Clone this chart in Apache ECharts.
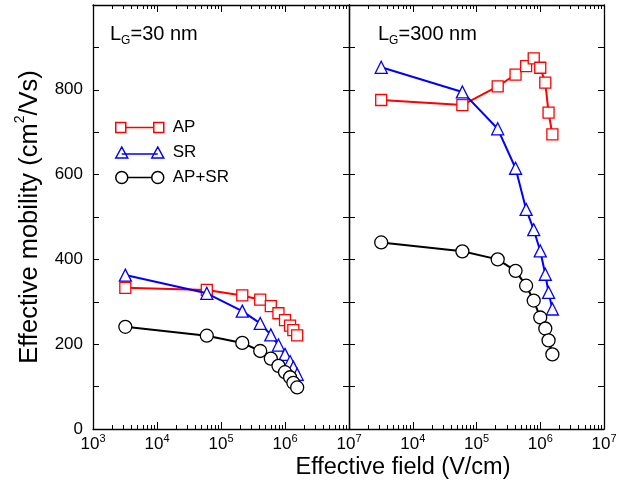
<!DOCTYPE html>
<html><head><meta charset="utf-8">
<script src="https://cdn.jsdelivr.net/npm/echarts@6/dist/echarts.min.js"></script>
<style>html,body{margin:0;padding:0;background:#fff}#c{width:629px;height:483px}</style>
</head><body><div id="c"></div>
<script>
// Effective field (V/cm), shared by both panels
const field = [3200, 60000, 215000, 410000, 600000, 790000, 1000000, 1200000, 1350000, 1550000];
// L_G = 30 nm
const apL   = [333, 328, 315, 305, 290, 273, 257, 244, 233, 221];
const srL   = [363, 320, 278, 249, 222, 198, 176, 159, 146, 129];
const bothL = [241, 220, 203, 184, 166, 149, 134, 122, 109, 98];
// L_G = 300 nm
const apR   = [776, 764, 808, 836, 856, 874, 852, 817, 746, 695];
const srR   = [853, 795, 708, 615, 518, 470, 420, 365, 322, 283];
const bothR = [440, 419, 400, 373, 338, 303, 263, 237, 209, 176];
const seriesNames = ['AP', 'SR', 'AP+SR'];
const panelLabels = ['30 nm', '300 nm'];
const yLabelValues = [0, 200, 400, 600, 800];

const FONT = '"Liberation Sans", Arial, Helvetica, sans-serif';
const minorLog = [];   // log10 positions of 2..9 x 10^n
const minorVals = [];  // same ticks as real values
for (let d = 3; d < 7; d++) for (let k = 2; k <= 9; k++) {
  minorVals.push(k * Math.pow(10, d));
  minorLog.push(Math.log10(k * Math.pow(10, d)));
}

const chart = echarts.init(document.getElementById('c'), null, {renderer: 'canvas'});

function majorX(grid, pos, labels, hideMin) {
  return {
    type: 'log', logBase: 10, gridIndex: grid, position: pos, min: 1e3, max: 1e7, splitNumber: 4,
    axisLine: {show: true, onZero: false, lineStyle: {color: '#000', width: 1.3}},
    axisTick: {show: true, inside: true, length: 7, lineStyle: {color: '#000', width: 1}},
    minorTick: {show: false}, splitLine: {show: false},
    axisLabel: {
      show: labels, showMinLabel: !hideMin, showMaxLabel: true, margin: 4,
      formatter: v => {
        const e = Math.round(Math.log10(v));
        if (hideMin && e === 3) return '';
        return '{b|10}{s|' + e + '}';
      },
      rich: {
        b: {fontFamily: FONT, fontSize: 17, color: '#000', lineHeight: 20, verticalAlign: 'bottom'},
        s: {fontFamily: FONT, fontSize: 11, color: '#000', lineHeight: 11, verticalAlign: 'top'}
      }
    }
  };
}
function minorX(grid, pos) {
  return {
    type: 'value', gridIndex: grid, position: pos, min: 3, max: 7,
    axisLine: {show: false, onZero: false}, splitLine: {show: false}, axisLabel: {show: false},
    axisTick: {show: true, inside: true, length: 4, customValues: minorLog, lineStyle: {color: '#000', width: 1}}
  };
}
function minorXLog(grid, pos) {
  return {
    type: 'log', logBase: 10, gridIndex: grid, position: pos, min: 1e3, max: 1e7,
    axisLine: {show: false, onZero: false}, splitLine: {show: false}, axisLabel: {show: false},
    minorTick: {show: false},
    axisTick: {show: true, inside: true, length: 4, customValues: minorVals, lineStyle: {color: '#000', width: 1}}
  };
}
function yAx(grid, pos, labels, name) {
  const o = {
    type: 'value', gridIndex: grid, position: pos, min: 0, max: 1000, interval: 100,
    axisLine: {show: true, onZero: false, lineStyle: {color: '#000', width: 1.3}},
    axisTick: {show: true, inside: true, length: 6, lineStyle: {color: '#000', width: 1}},
    splitLine: {show: false},
    axisLabel: {
      show: labels, margin: 10, fontFamily: FONT, fontSize: 17, color: '#000',
      formatter: v => (yLabelValues.indexOf(v) >= 0 ? String(v) : '')
    }
  };
  if (name) {
    o.name = '{m|Effective mobility (cm}{s|2}{m|/Vs)}';
    o.nameLocation = 'middle';
    o.nameGap = 50;
    o.nameRotate = 90;
    o.nameTextStyle = {
      rich: {
        m: {fontFamily: FONT, fontSize: 25.5, color: '#000', lineHeight: 30, verticalAlign: 'bottom'},
        s: {fontFamily: FONT, fontSize: 14, color: '#000', lineHeight: 14, verticalAlign: 'top'}
      }
    };
  }
  return o;
}
const colors = ['#ff0000', '#0000ff', '#000000'];
const symbols = ['rect', 'triangle', 'circle'];
const sizes = [11, 12, 13];
function mk(idx, xi, yi, ys) {
  return {
    type: 'line', name: seriesNames[idx], xAxisIndex: xi, yAxisIndex: yi,
    data: field.map((x, i) => [x, ys[i]]),
    symbol: symbols[idx], symbolSize: sizes[idx], showAllSymbol: true,
    lineStyle: {color: colors[idx], width: 2},
    itemStyle: {color: '#fff', borderColor: colors[idx], borderWidth: 1.3},
    color: colors[idx], animation: false, z: 3 + idx
  };
}
const iconRect = 'path://M0 1 L10 1 L10 11 L0 11 Z M10 6 L38 6 M38 1 L48 1 L48 11 L38 11 Z';
const iconTri = 'path://M0 11 L6 0 L12 11 Z M6 7 L42 7 M36 11 L42 0 L48 11 Z';
const iconCirc = 'path://M0 6 A6 6 0 1 0 12 6 A6 6 0 1 0 0 6 Z M12 6 L36 6 M36 6 A6 6 0 1 0 48 6 A6 6 0 1 0 36 6 Z';
const icons = [iconRect, iconTri, iconCirc];

const subRich = {
  m: {fontFamily: FONT, fontSize: 20, fill: '#000', lineHeight: 26, verticalAlign: 'middle'},
  s: {fontFamily: FONT, fontSize: 12, fill: '#000', lineHeight: 12, verticalAlign: 'bottom'}
};

chart.setOption({
  backgroundColor: '#fff',
  animation: false,
  grid: [
    {left: 93, top: 5, width: 256, height: 424},
    {left: 349, top: 5, width: 255, height: 424}
  ],
  xAxis: [
    majorX(0, 'bottom', true, false), minorX(0, 'bottom'), majorX(0, 'top', false, false), minorX(0, 'top'),
    majorX(1, 'bottom', true, true), minorX(1, 'bottom'), majorX(1, 'top', false, false), minorX(1, 'top'),
    minorXLog(0, 'bottom'), minorXLog(0, 'top'), minorXLog(1, 'bottom'), minorXLog(1, 'top')
  ],
  yAxis: [
    yAx(0, 'left', true, true), yAx(0, 'right', false, false),
    yAx(1, 'left', false, false), yAx(1, 'right', false, false)
  ],
  legend: {
    show: true, orient: 'vertical', left: 110, top: 114, itemWidth: 48, itemHeight: 12, itemGap: 8,
    textStyle: {fontFamily: FONT, fontSize: 17, color: '#000', padding: [0, 0, 0, 4]},
    data: seriesNames.map((n, i) => ({
      name: n, icon: icons[i],
      itemStyle: {color: '#fff', borderColor: colors[i], borderWidth: 1.5}
    }))
  },
  graphic: [
    {type: 'text', x: 110, y: 21, style: {text: '{m|L}{s|G}{m|=' + panelLabels[0] + '}', rich: subRich}},
    {type: 'text', x: 378, y: 21, style: {text: '{m|L}{s|G}{m|=' + panelLabels[1] + '}', rich: subRich}},
    {type: 'text', x: 403, y: 468, style: {text: 'Effective field (V/cm)', fontFamily: FONT, fontSize: 23.5, fill: '#000', align: 'center', verticalAlign: 'middle'}}
  ],
  series: [
    mk(0, 0, 0, apL), mk(1, 0, 0, srL), mk(2, 0, 0, bothL),
    mk(0, 4, 2, apR), mk(1, 4, 2, srR), mk(2, 4, 2, bothR)
  ]
});
</script></body></html>
